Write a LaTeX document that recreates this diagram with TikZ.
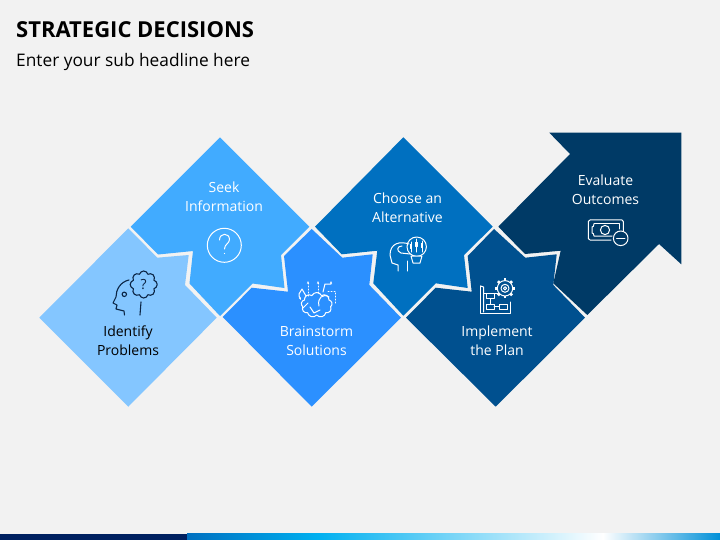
\documentclass[tikz,border=0pt]{standalone}
\usepackage{fontspec}
\setmainfont{Open Sans}
\usetikzlibrary{shapes.symbols,arrows.meta}
\definecolor{pagebg}{HTML}{F2F2F2}
\definecolor{tileone}{HTML}{84C6FF}
\definecolor{tiletwo}{HTML}{41ABFF}
\definecolor{tilethree}{HTML}{2B90FF}
\definecolor{tilefour}{HTML}{0070C0}
\definecolor{tilefive}{HTML}{00508F}
\definecolor{tilesix}{HTML}{003A66}
\definecolor{inkdark}{HTML}{0B2545}
\definecolor{barnavy}{HTML}{002060}
\definecolor{barsky}{HTML}{00B0F0}
\definecolor{barend}{HTML}{0090D8}
\tikzset{
  boxtext/.style={align=center,font=\fontsize{14}{19}\selectfont,text=white,inner sep=0pt},
  iconw/.style={draw=white,line width=1pt,line cap=round,line join=round},
  iconk/.style={draw=inkdark,line width=1.1pt,line cap=round,line join=round},
}
\begin{document}
\begin{tikzpicture}[x=1pt,y=-1pt]
\useasboundingbox (0,0) rectangle (720,540);
\fill[pagebg] (0,0) rectangle (720,540);

\node[anchor=west,inner sep=0pt,font=\fontsize{22}{26}\selectfont\bfseries] (title) at (16,29.5) {STRATEGIC DECISIONS};
\node[anchor=west,inner sep=0pt,font=\fontsize{17.3}{20}\selectfont] (subtitle) at (16,62) {Enter your sub headline here};

% tiles
\fill[tileone] (128.3,228.3)--(157.3,257.7)--(188.7,255)--(185,285)--(216.7,317.7)--(128.3,406.7)--(39.3,317.7)--cycle;
\fill[tiletwo] (220,137.3)--(309.3,226.7)--(281,255)--(284.5,288)--(252.7,283.5)--(220,316)--(189.5,283.5)--(193,251)--(158,254.5)--(130.7,226.7)--cycle;
\fill[tilethree] (311.7,229)--(342.3,257.7)--(372.7,254.3)--(369.3,285)--(401,317.7)--(311.7,406.7)--(222.7,317)--(251.7,287.7)--(288,291.7)--(284,256)--cycle;
\fill[tilefour] (403.3,137.3)--(492.7,226.7)--(464,255)--(467.7,288)--(435.7,283.3)--(403.3,315.7)--(373.3,283.3)--(377.3,250.7)--(341.7,254.3)--(315,226.7)--cycle;
\fill[tilefive] (494,229)--(525.3,257.7)--(556.7,254.3)--(553.3,285)--(585,317.7)--(495.7,406.7)--(406,317.7)--(435.7,287.7)--(471.7,291.7)--(467.7,256)--cycle;
\fill[tilesix] (549.3,132.7)--(681.3,132.7)--(681.3,264.3)--(659,244)--(587.3,315)--(553.3,283.3)--(560.7,250.7)--(525,254)--(498.3,226.7)--(570,154)--cycle;

% texts
\node[boxtext,text=black] (identify) at (128,340.5) {Identify\\Problems};
\node[boxtext] (seek) at (224,196.5) {Seek\\Information};
\node[boxtext] (brainstorm) at (316.5,340.5) {Brainstorm\\Solutions};
\node[boxtext] (choose) at (407.5,207.5) {Choose an\\Alternative};
\node[boxtext] (implement) at (497,340.5) {Implement\\the Plan};
\node[boxtext] (evaluate) at (605.5,189.5) {Evaluate\\Outcomes};

% head with cloud
\node[cloud,cloud puffs=8,cloud puff arc=150,aspect=1.1,iconk,minimum width=27pt,minimum height=27pt,inner sep=0pt,font=\fontsize{14}{14}\selectfont,text=inkdark] (cloudq) at (143.7,284.5) {?};
\draw[iconk] (129,280) .. controls (120,282) and (116,290) .. (116,297) -- (113,303) -- (117,305) -- (116,309) -- (124,311) -- (124.5,315);
\draw[iconk] (141,302) -- (140,315);
\draw[iconk] (124.3,294.3) circle[radius=2.2];

% question circle
\draw[iconw] (224.3,245.3) circle[radius=17];
\draw[iconw] (219.5,240) .. controls (219.5,232.5) and (229.5,232.5) .. (229.5,239.5) .. controls (229.5,243.5) and (224.5,244) .. (224.5,249);
\fill[white] (224.5,253.5) circle[radius=0.7];

% brain
\node[cloud,cloud puffs=9,cloud puff arc=130,aspect=1.2,iconw,minimum width=31pt,minimum height=25pt,inner sep=0pt] (brain) at (316.7,305) {};
\draw[iconw] (319,306) .. controls (317,298) and (323,293) .. (329,297);
\draw[iconw] (310,307) -- (314,313) -- (320,310);
\draw[iconw] (303,308) -- (308,303);
\draw[iconw,dotted,-{Stealth[length=3pt]}] (308,296) -- (308,281);
\draw[iconw,dotted,-{Stealth[length=3pt]}] (318,293) -- (318,281);
\draw[iconw,dotted] (328,291) -- (335,291) -- (335,303);
\draw[iconw,-{Stealth[length=3pt]}] (323,292) -- (325,284) -- (331,284) -- (331,281);
\draw[iconw,-{Stealth[length=3pt]}] (306,296) -- (302,289) -- (299,294) -- (299,296) -- (301,300);

% head with bulb
\draw[iconw] (409,244) .. controls (400,241) and (390,243) .. (390,255) -- (392,263) -- (398,265) -- (398,271);
\draw[iconw] (407,261) -- (407,271);
\draw[iconw] (410,254) -- (401,253) .. controls (396,251) and (397,246) .. (402,246);
\draw[iconw] (416.7,246.7) circle[radius=9.7];
\draw[iconw,fill=tilefour] (411,256) -- (422,256) -- (420,263) -- (413,263) -- cycle;
\draw[iconw] (411,242) -- (411,252) (416.5,239) -- (416.5,252) (422,241) -- (422,252);
\draw[iconw,fill=white] (410.2,244) rectangle (411.8,248) (415.7,242) rectangle (417.3,246) (421.2,243.5) rectangle (422.8,247.5);

% plan with gear
\draw[iconw] (480.5,286) -- (480.5,313.5) -- (510,313.5) -- (510,302);
\draw[iconw] (480.5,286) -- (483.5,287) -- (483.5,312);
\draw[iconw] (484,293) -- (499,293);
\draw[iconw] (486,293.5) rectangle (494,298.5);
\draw[iconw] (486,304) rectangle (494,309);
\draw[iconw] (499,304) rectangle (507,309);
\draw[iconw] (494,306.5) -- (499,306.5);
\draw[iconw] (490,298.5) -- (490,304);
\draw[iconw,fill=tilefive] (505,288.3) circle[radius=7.7];
\foreach \a in {0,45,...,315}
  \draw[iconw,line width=2.6pt,line cap=butt] (505,288.3) ++(\a:7.7) -- ++(\a:2.3);
\draw[iconw] (505,288.3) circle[radius=4];
\draw[iconw] (505,288.3) circle[radius=1.6];

% money
\draw[iconw] (590,220) -- (622,220) -- (623.3,221.5) -- (623.3,232);
\draw[iconw] (590,220) -- (588.3,221.5) -- (588.3,238.5) -- (590,240) -- (611,240);
\draw[iconw] (594,224) -- (619,224) -- (619,229);
\draw[iconw] (594,224) .. controls (594,226) and (593,227) .. (592,227) -- (592,233) .. controls (593,233) and (594,234) .. (594,236) -- (612,236);
\draw[iconw] (605,230) circle[radius=4.6];
\draw[iconw,fill=tilesix] (620.7,238.3) circle[radius=7.3];
\draw[iconw,line width=1.4pt] (616.7,238.3) -- (624.7,238.3);

% bottom bar
\fill[barnavy] (0,533.5) rectangle (187,540);
\shade[left color=tilefour,right color=barsky] (187,533.5) rectangle (318,540);
\shade[left color=barsky,right color=white] (317.8,533.5) rectangle (603,540);
\shade[left color=white,right color=barend] (602.8,533.5) rectangle (720,540);
\end{tikzpicture}
\end{document}
